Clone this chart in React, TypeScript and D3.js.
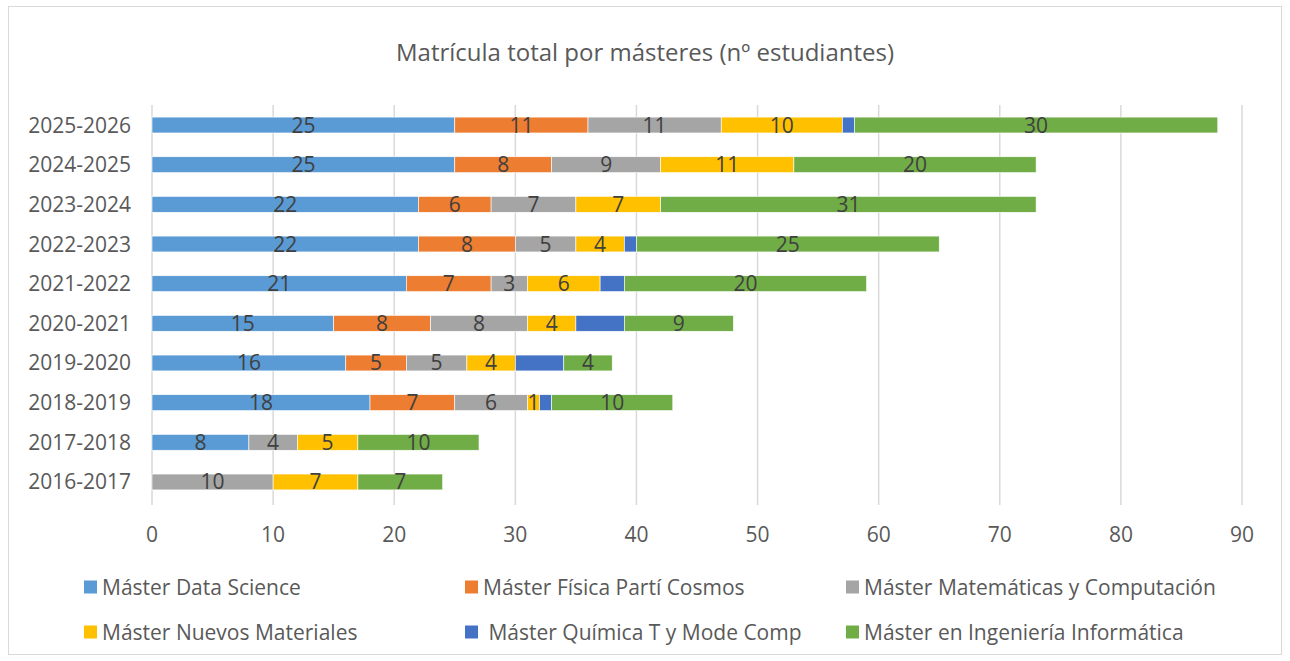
import React from "react";
import * as d3 from "d3";

const years = ["2025-2026","2024-2025","2023-2024","2022-2023","2021-2022","2020-2021","2019-2020","2018-2019","2017-2018","2016-2017"];
const seriesNames = ["Máster Data Science","Máster Física Partí Cosmos","Máster Matemáticas y Computación","Máster Nuevos Materiales"," Máster Química T y Mode Comp","Máster en Ingeniería Informática"];
const colors = ["#5b9bd5","#ed7d31","#a5a5a5","#ffc000","#4472c4","#70ad47"];
const dataScience = [25,25,22,22,21,15,16,18,8,0];
const fisica = [11,8,6,8,7,8,5,7,0,0];
const matematicas = [11,9,7,5,3,8,5,6,4,10];
const materiales = [10,11,7,4,6,4,4,1,5,7];
const quimica = [1,0,0,1,2,4,4,1,0,0];
const informatica = [30,20,31,25,20,9,4,10,10,7];
const showLabels = [true,true,true,true,false,true];
const xTicks = [0,10,20,30,40,50,60,70,80,90];

const FONT = "'Open Sans', sans-serif";

export default function App() {
  const W = 1290, H = 661;
  const values = [dataScience, fisica, matematicas, materiales, quimica, informatica];
  const x = d3.scaleLinear().domain([0, 90]).range([152, 1242]);
  const y = d3.scaleBand().domain(years).range([105.2, 501.8]).paddingInner(0.6).paddingOuter(0.3);
  const table = years.map((yr, i) => {
    const row: any = { year: yr };
    seriesNames.forEach((s, k) => (row[s] = values[k][i]));
    return row;
  });
  const stacked = d3.stack().keys(seriesNames)(table);
  const legendCols = [84, 465, 846];
  const legendRows = [587, 632];
  return (
    <svg width={W} height={H} style={{ position: "absolute", left: 0, top: 0, fontFamily: FONT }}>
      <rect x={0} y={0} width={W} height={H} fill="#fff" />
      <rect x={8.5} y={6.5} width={1273} height={648} fill="#fff" stroke="#d9d9d9" />
      <text x={645} y={61} textAnchor="middle" fontSize={24} fill="#595959">Matrícula total por másteres (nº estudiantes)</text>
      {xTicks.map(t => (
        <g key={t}>
          <line x1={x(t)} x2={x(t)} y1={105} y2={505} stroke="#d9d9d9" strokeWidth={1.5} />
          <text x={x(t)} y={542} textAnchor="middle" fontSize={21} fill="#595959">{t}</text>
        </g>
      ))}
      {years.map(yr => (
        <text key={yr} x={131} y={(y(yr) as number) + y.bandwidth() / 2 + 7.5} textAnchor="end" fontSize={21} fill="#595959">{yr}</text>
      ))}
      {stacked.map((s, k) => (
        <g key={k}>
          {s.map((d, i) => d[1] - d[0] > 0 ? (
            <rect key={i} x={x(d[0])} y={y(years[i]) as number} width={x(d[1]) - x(d[0])} height={y.bandwidth()} fill={colors[k]} stroke="#fff" strokeWidth={0.6} />
          ) : null)}
          {showLabels[k] && s.map((d, i) => d[1] - d[0] > 0 ? (
            <text key={"t" + i} x={(x(d[0]) + x(d[1])) / 2} y={(y(years[i]) as number) + y.bandwidth() / 2 + 7.5} textAnchor="middle" fontSize={21} fill="#404040">{d[1] - d[0]}</text>
          ) : null)}
        </g>
      ))}
      {seriesNames.map((s, k) => {
        const cx = legendCols[k % 3];
        const cy = legendRows[Math.floor(k / 3)];
        return (
          <g key={s}>
            <rect x={cx} y={cy - 6.5} width={13} height={13} fill={colors[k]} />
            <text x={cx + 18} y={cy + 7.5} fontSize={21} fill="#595959" style={{ whiteSpace: "pre" }}>{s}</text>
          </g>
        );
      })}
    </svg>
  );
}
